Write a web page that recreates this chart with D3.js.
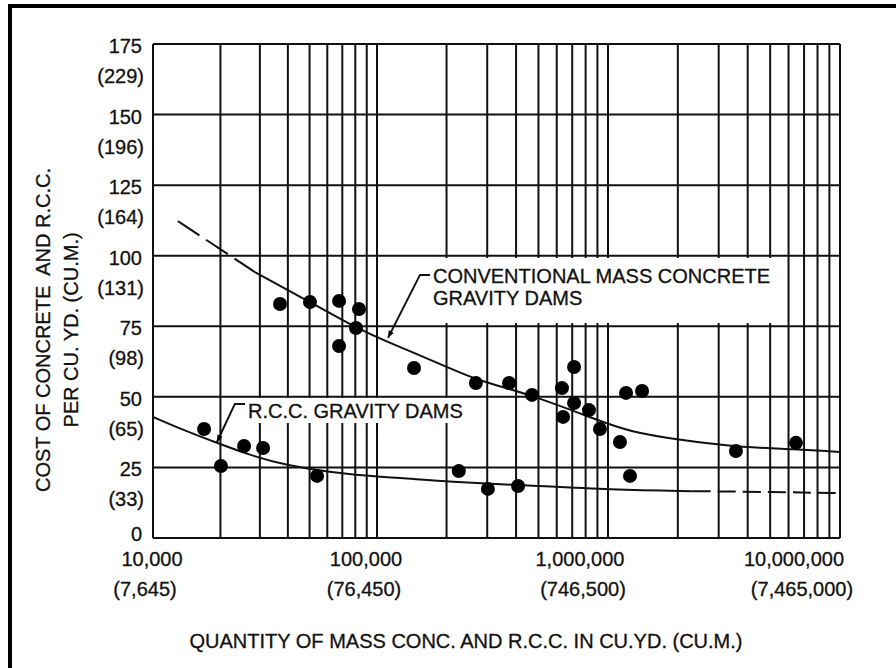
<!DOCTYPE html>
<html>
<head>
<meta charset="utf-8">
<script src="https://cdn.jsdelivr.net/npm/d3@7"></script>
<style>
  html, body { margin: 0; padding: 0; background: #fff; }
  svg text { font-family: "Liberation Sans", Arial, sans-serif; fill: #111; font-size: 20px; stroke: #111; stroke-width: 0.3px; }
</style>
</head>
<body>
<svg id="chart" width="896" height="668"></svg>
<script>
// tick labels
const yTicks = [0, 25, 50, 75, 100, 125, 150, 175];
const yMetricLabels = ["", "(33)", "(65)", "(98)", "(131)", "(164)", "(196)", "(229)"];
const xLabelValues = [1e4, 1e5, 1e6, 1e7];
const xLabels = ["10,000", "100,000", "1,000,000", "10,000,000"];
const xMetricLabels = ["(7,645)", "(76,450)", "(746,500)", "(7,465,000)"];

// conventional mass concrete gravity dams: quantity (cu.yd.) and cost ($/cu.yd.)
const convQty = [36900, 50200, 67700, 83100, 80600, 67700, 144600, 268000, 373000, 469000, 632000,
  713000, 713000, 827000, 639000, 923000, 1126000, 1196000, 1402000, 3560000, 6460000];
const convCost = [82.9, 83.6, 84.0, 81.1, 74.4, 68.0, 60.2, 54.9, 54.9, 50.7, 53.1,
  60.6, 47.8, 45.3, 42.9, 38.6, 34.0, 51.4, 52.1, 30.8, 33.7];

// r.c.c. gravity dams
const rccQty = [16900, 20100, 25500, 31000, 54000, 226000, 302000, 408000, 1244000];
const rccCost = [38.6, 25.5, 32.6, 31.9, 22.0, 23.7, 17.4, 18.4, 22.0];

// trend curves (dashed part first for conventional, last for rcc)
const convDashQty = [12900, 19300, 28500];
const convDashCost = [112.3, 103.1, 94.2];
const convLineQty = [28500, 50200, 80600, 113800, 207000, 268000, 469000, 896000, 1244000, 2040000, 3560000, 6460000, 10000000];
const convLineCost = [94.2, 83.6, 74.4, 69.1, 60.2, 56.0, 50.7, 41.8, 37.6, 34.7, 32.2, 31.5, 30.5];
const rccLineQty = [10000, 13600, 19300, 27100, 38000, 75700, 125800, 207000, 416000, 1051000, 2320000];
const rccLineCost = [42.9, 38.3, 33.7, 29.4, 25.9, 22.3, 21.3, 19.8, 18.8, 17.0, 16.6];
const rccDashQty = [2320000, 5140000, 10000000];
const rccDashCost = [16.6, 16.3, 15.9];

const svg = d3.select("#chart");
const ink = "#111";

const x = d3.scaleLog().domain([1e4, 1e5, 1e6, 1e7]).range([153, 377, 608, 840]);
const y = d3.scaleLinear().domain([0, 175]).range([538, 44]);
// tick labels sit a bit off the grid in the original
const xLab = d3.scaleLog().domain([1e4, 1e7]).range([152, 794]);
const xLabM = d3.scaleLog().domain([1e4, 1e7]).range([145, 802]);

// outer frame (top + left visible)
svg.append("line").attr("x1", 8).attr("x2", 896).attr("y1", 6).attr("y2", 6)
  .attr("stroke", "#000").attr("stroke-width", 4);
svg.append("line").attr("x1", 10).attr("x2", 10).attr("y1", 4).attr("y2", 668)
  .attr("stroke", "#000").attr("stroke-width", 4);

// grid
const grid = svg.append("g").attr("stroke", ink).attr("stroke-width", 2);
grid.selectAll("line.v")
  .data(x.ticks())
  .enter()
  .append("line")
  .attr("class", "v")
  .attr("x1", d => x(d)).attr("x2", d => x(d))
  .attr("y1", y(175)).attr("y2", y(0));
grid.selectAll("line.h")
  .data(yTicks)
  .enter()
  .append("line")
  .attr("class", "h")
  .attr("x1", x(1e4)).attr("x2", x(1e7))
  .attr("y1", d => y(d)).attr("y2", d => y(d));

// y tick labels ("0" sits a little higher so it clears 10,000)
svg.selectAll("text.ylab")
  .data(yTicks)
  .enter()
  .append("text")
  .attr("class", "ylab")
  .attr("text-anchor", "end")
  .attr("x", 142)
  .attr("y", d => y(d) + (d === 0 ? 3 : 9))
  .text(d => d);
svg.selectAll("text.ylabm")
  .data(yTicks)
  .enter()
  .append("text")
  .attr("class", "ylabm")
  .attr("text-anchor", "end")
  .attr("x", 144)
  .attr("y", d => y(d) + 39)
  .text((d, i) => yMetricLabels[i]);

// x tick labels
svg.selectAll("text.xlab")
  .data(xLabelValues)
  .enter()
  .append("text")
  .attr("class", "xlab")
  .attr("text-anchor", "middle")
  .attr("x", d => xLab(d))
  .attr("y", 566)
  .text((d, i) => xLabels[i]);
svg.selectAll("text.xlabm")
  .data(xLabelValues)
  .enter()
  .append("text")
  .attr("class", "xlabm")
  .attr("text-anchor", "middle")
  .attr("x", d => xLabM(d))
  .attr("y", 596)
  .text((d, i) => xMetricLabels[i]);

// axis titles
svg.append("text")
  .attr("text-anchor", "middle")
  .attr("x", 466).attr("y", 648)
  .text("QUANTITY OF MASS CONC. AND R.C.C. IN CU.YD. (CU.M.)");
svg.append("text")
  .attr("text-anchor", "middle")
  .attr("transform", "translate(50,330) rotate(-90)")
  .text("COST OF CONCRETE\u00a0 AND R.C.C.");
svg.append("text")
  .attr("text-anchor", "middle")
  .attr("transform", "translate(78,330) rotate(-90)")
  .text("PER CU. YD. (CU.M.)");

// curves
const line = d3.line().x(d => x(d[0])).y(d => y(d[1])).curve(d3.curveBasis);
function drawCurve(qty, cost, dash) {
  svg.append("path")
    .datum(qty.map((q, i) => [q, cost[i]]))
    .attr("d", line)
    .attr("fill", "none")
    .attr("stroke", ink)
    .attr("stroke-width", 2)
    .attr("stroke-dasharray", dash);
}
drawCurve(convDashQty, convDashCost, "26,8");
drawCurve(convLineQty, convLineCost, null);
drawCurve(rccLineQty, rccLineCost, null);
drawCurve(rccDashQty, rccDashCost, "18,7");

// points
svg.selectAll("circle.conv")
  .data(convQty)
  .enter()
  .append("circle")
  .attr("class", "conv")
  .attr("cx", d => x(d))
  .attr("cy", (d, i) => y(convCost[i]))
  .attr("r", 7)
  .attr("fill", "#000");
svg.selectAll("circle.rcc")
  .data(rccQty)
  .enter()
  .append("circle")
  .attr("class", "rcc")
  .attr("cx", d => x(d))
  .attr("cy", (d, i) => y(rccCost[i]))
  .attr("r", 7)
  .attr("fill", "#000");

// labels with leaders
svg.append("defs").append("marker")
  .attr("id", "arrow")
  .attr("viewBox", "0 0 10 10")
  .attr("refX", 10).attr("refY", 5)
  .attr("markerWidth", 10).attr("markerHeight", 7)
  .attr("markerUnits", "userSpaceOnUse")
  .attr("orient", "auto")
  .append("path")
  .attr("d", "M0,1L10,5L0,9Z")
  .attr("fill", "#000");

function label(lines, tip, elbow, tx, base, box) {
  svg.append("rect")
    .attr("x", box[0]).attr("y", box[1])
    .attr("width", box[2] - box[0]).attr("height", box[3] - box[1])
    .attr("fill", "#fff");
  const ex = x(elbow[0]), ey = y(elbow[1]);
  svg.append("path")
    .attr("d", `M${tx - 3},${ey}H${ex}L${x(tip[0])},${y(tip[1])}`)
    .attr("fill", "none")
    .attr("stroke", ink)
    .attr("stroke-width", 2)
    .attr("marker-end", "url(#arrow)");
  lines.forEach((t, i) => {
    svg.append("text").attr("x", tx).attr("y", base + i * 22).text(t);
  });
}
label(["CONVENTIONAL MASS CONCRETE", "GRAVITY DAMS"],
  [111600, 70.9], [153500, 93.2], 433, 283, [425, 258, 782, 323]);
label(["R.C.C. GRAVITY DAMS"],
  [19300, 34.0], [23200, 47.5], 248, 418, [240, 398, 472, 423]);
</script>
</body>
</html>
